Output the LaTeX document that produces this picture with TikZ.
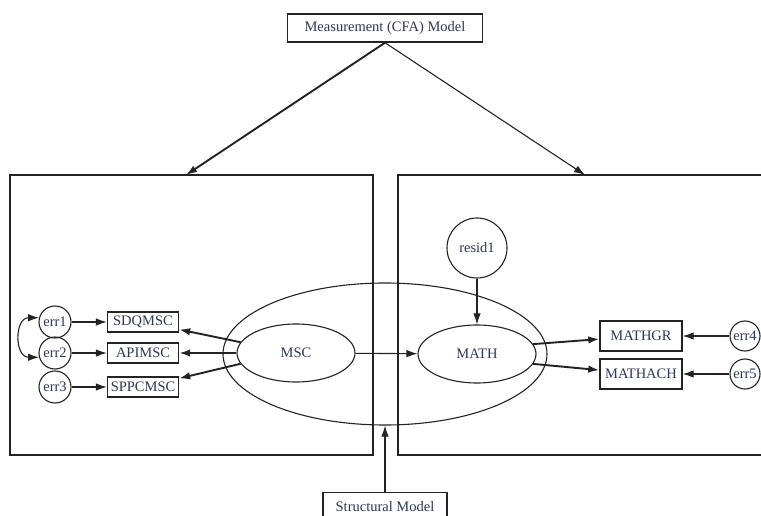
\documentclass[tikz,border=0pt]{standalone}
\usepackage{fontspec}
\setmainfont{Liberation Serif}
\usetikzlibrary{shapes.geometric, arrows.meta, positioning}
\definecolor{testo}{RGB}{45,55,90}
\definecolor{linea}{RGB}{35,35,35}

\begin{document}
\begin{tikzpicture}[x=1pt, y=-1pt, >={Latex[length=11pt,width=7.5pt]},
    font=\fontsize{14.5}{16}\selectfont,
    every node/.style={text=testo},
    scatola/.style={draw=linea, line width=1.4pt, inner sep=0pt},
    errore/.style={circle, draw=linea, line width=1.1pt, minimum size=32pt, inner sep=0pt},
    latente/.style={ellipse, draw=linea, line width=1.1pt, minimum width=118pt, minimum height=58pt, inner sep=0pt},
    freccia/.style={->, draw=linea, line width=1.1pt},
    frecciaspessa/.style={freccia, line width=1.9pt},
    doppia/.style={<->, draw=linea, line width=1.1pt}]
    % Cornice
    \path[use as bounding box, clip] (0,0) rectangle (761,516);
    % Modello di misura
    \node[scatola, minimum width=195pt, minimum height=28pt] (misura) at (385,28) {Measurement (CFA) Model};
    % Riquadri
    \draw[linea, line width=1.4pt] (10,175) rectangle (373,455);
    \draw[linea, line width=1.4pt] (398,175) rectangle (775,455);
    \coordinate (sx) at (186,175);
    \coordinate (dx) at (585,175);
    \draw[frecciaspessa] (misura.south) -- (sx);
    \draw[freccia] (misura.south) -- (dx);
    % Modello strutturale
    \node[latente, minimum width=324pt, minimum height=142pt] (strutt) at (385,354) {};
    \node[latente] (MSC) at (296,353) {MSC};
    \node[latente] (MATH) at (477,354) {MATH};
    \node[errore, minimum size=60pt] (resid1) at (477,248) {resid1};
    \draw[freccia] (MSC) -- (MATH);
    \draw[freccia] (resid1) -- (MATH);
    \node[scatola, minimum width=124pt, minimum height=28pt, anchor=north] (strmod) at (385,492) {Structural Model};
    \draw[freccia] (strmod) -- (strutt);
    % Indicatori di MSC
    \foreach \nome/\err/\y/\ang in {SDQMSC/err1/322/169, APIMSC/err2/353/180, SPPCMSC/err3/387/191} {
        \node[scatola, minimum width=71pt, minimum height=20pt] (\nome) at (143,\y) {\nome};
        \node[errore] (\err) at (55,\y) {\err};
        \draw[freccia] (\err) -- (\nome);
        \draw[frecciaspessa] (MSC.\ang) -- (\nome);
    }
    \draw[doppia] (err1.165) to[out=180, in=180, looseness=1.6] (err2.195);
    % Indicatori di MATH
    \foreach \nome/\err/\y/\ang in {MATHGR/err4/336/10, MATHACH/err5/374/-10} {
        \node[scatola, minimum width=82pt, minimum height=30pt] (\nome) at (641,\y) {\nome};
        \node[errore, minimum size=30pt] (\err) at (745,\y) {\err};
        \draw[freccia] (\err) -- (\nome);
        \draw[frecciaspessa] (MATH.\ang) -- (\nome);
    }
\end{tikzpicture}
\end{document}
